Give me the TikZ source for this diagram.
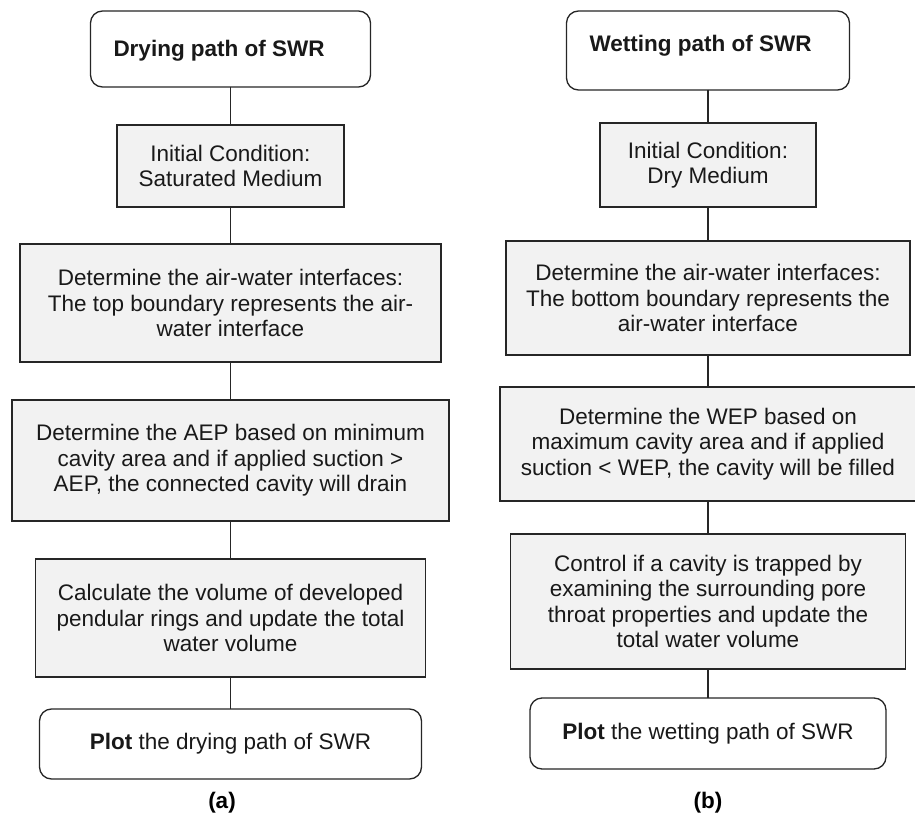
\documentclass[tikz,border=0pt]{standalone}
\usepackage{fontspec}
\setmainfont{Liberation Sans}
\begin{document}
\begin{tikzpicture}[x=1pt,y=-1pt,
  every node/.style={inner sep=0pt, outer sep=0pt},
  txt/.style={font=\fontsize{22.5}{25.5}\selectfont, align=center, text=black!90},
  stepbox/.style={txt, draw=black!85, line width=1.3pt, fill=boxgrey},
  roundbox/.style={txt, draw=black!85, line width=1.3pt, fill=white, rounded corners=12pt},
  link/.style={draw=black!85, line width=1.1pt},
  capt/.style={font=\fontsize{22.5}{25.5}\selectfont\bfseries}]
\definecolor{boxgrey}{RGB}{242,242,242}
\useasboundingbox (0,0) rectangle (915,818);
% left column
\node[roundbox, minimum width=280pt, minimum height=76pt] (a0) at (230.5,49) {};
\node[txt, font=\fontsize{22.5}{25.5}\selectfont\bfseries, anchor=base west] (a0t) at ([xshift=23pt,yshift=-4pt]a0.west |- 0,53) {Drying path of SWR};
\node[stepbox, minimum width=227pt, minimum height=82pt] (a1) at (230.5,166) {Initial Condition:\\Saturated Medium};
\node[stepbox, minimum width=421pt, minimum height=118pt] (a2) at (230.5,303) {Determine the air-water interfaces:\\The top boundary represents the air-\\water interface};
\node[stepbox, minimum width=437pt, minimum height=121pt] (a3) at (230.5,460.5) {Determine the AEP based on minimum\\cavity area and if applied suction >\\AEP, the connected cavity will drain};
\node[stepbox, minimum width=390pt, minimum height=118pt] (a4) at (230.5,618) {Calculate the volume of developed\\pendular rings and update the total\\water volume};
\node[roundbox, minimum width=382pt, minimum height=70pt] (a5) at (230.5,744) {\textbf{Plot} the drying path of SWR};
\node[capt] (ca) at (222,803) {(a)};
\draw[link] (a0) -- (a1);
\draw[link] (a1) -- (a2);
\draw[link] (a2) -- (a3);
\draw[link] (a3) -- (a4);
\draw[link] (a4) -- (a5);
% right column
\node[roundbox, minimum width=283pt, minimum height=79pt] (b0) at (708,50.5) {};
\node[txt, font=\fontsize{22.5}{25.5}\selectfont\bfseries, anchor=base west] (b0t) at ([xshift=23pt]b0.west |- 0,52) {Wetting path of SWR};
\node[stepbox, minimum width=216pt, minimum height=84pt] (b1) at (708,165) {Initial Condition:\\Dry Medium};
\node[stepbox, minimum width=404pt, minimum height=114pt] (b2) at (708,298) {Determine the air-water interfaces:\\The bottom boundary represents the\\air-water interface};
\node[stepbox, minimum width=416pt, minimum height=114pt] (b3) at (708,444) {Determine the WEP based on\\maximum cavity area and if applied\\suction < WEP, the cavity will be filled};
\node[stepbox, minimum width=395pt, minimum height=135pt] (b4) at (708,601.5) {Control if a cavity is trapped by\\examining the surrounding pore\\throat properties and update the\\total water volume};
\node[roundbox, minimum width=356pt, minimum height=71pt] (b5) at (708,733.5) {\textbf{Plot} the wetting path of SWR};
\node[capt] (cb) at (708,803) {(b)};
\draw[link] (b0) -- (b1);
\draw[link] (b1) -- (b2);
\draw[link] (b2) -- (b3);
\draw[link] (b3) -- (b4);
\draw[link] (b4) -- (b5);
\end{tikzpicture}
\end{document}
